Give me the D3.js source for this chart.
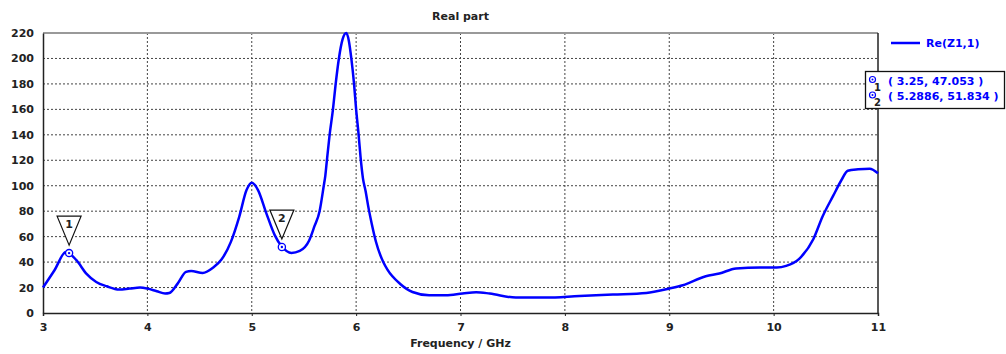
<!DOCTYPE html>
<html>
<head>
<meta charset="utf-8">
<script src="https://cdn.jsdelivr.net/npm/d3@7"></script>
<style>
  body { margin: 0; background: #fff; }
  text { font-family: "DejaVu Sans", Verdana, sans-serif; font-weight: bold; }
</style>
</head>
<body>
<div id="chart"></div>
<script>
// frequency samples (GHz)
var freq = [3.0, 3.11, 3.22, 3.32, 3.415, 3.51, 3.61, 3.73, 3.83, 3.93, 4.0, 4.09, 4.17, 4.21, 4.29,
  4.37, 4.42, 4.53, 4.63, 4.71, 4.80, 4.88, 4.95, 5.0, 5.06, 5.14, 5.22, 5.29, 5.38, 5.46, 5.55,
  5.60, 5.65, 5.69, 5.705, 5.72, 5.746, 5.778, 5.804, 5.835, 5.87, 5.906, 5.93, 5.954, 5.98, 6.0,
  6.024, 6.043, 6.065, 6.09, 6.12, 6.15, 6.19, 6.26, 6.30, 6.42, 6.54, 6.70, 6.86, 7.02, 7.15,
  7.28, 7.53, 7.82, 8.14, 8.46, 8.78, 9.0, 9.13, 9.35, 9.48, 9.64, 9.87, 10.03, 10.12, 10.25,
  10.38, 10.47, 10.57, 10.65, 10.71, 10.81, 10.92, 11.0];
// Re(Z1,1)
var re = [20, 33.6, 48, 41.5, 31, 24.4, 21, 18.4, 19.2, 20, 19.2, 17.1, 15.3, 15.7, 23.1,
  32.3, 33, 31.5, 35.7, 42, 55.9, 75.6, 96.6, 102.4, 96.6, 78.3, 61.2, 52, 47.2, 48.8, 57,
  68, 80, 100, 108, 120, 140, 160, 180, 200, 215, 220, 214, 200, 180, 160,
  140, 122, 106, 96, 82, 70, 56, 40, 34, 23, 16.5, 13.9, 13.9, 15.3, 16.3,
  15.3, 12.1, 12.1, 13.4, 14.5, 15.7, 19.2, 21.8, 28.9, 31, 35, 35.7, 35.7, 37, 43,
  58, 76, 92, 104.5, 111.8, 112.9, 113.4, 109.8];

var xTicks = [3, 4, 5, 6, 7, 8, 9, 10, 11];
var yTicks = [0, 20, 40, 60, 80, 100, 120, 140, 160, 180, 200, 220];

var markerFreq = [3.25, 5.2886];
var markerVal = [47.053, 51.834];
var markerText = ["( 3.25, 47.053 )", "( 5.2886, 51.834 )"];

var title = "Real part";
var xLabel = "Frequency / GHz";
var seriesName = "Re(Z1,1)";

//width and height
var W = 1006, H = 354;
var margin = { top: 33, right: 128, bottom: 41, left: 43 };
var width = W - margin.left - margin.right;
var height = H - margin.top - margin.bottom;
var blue = "#0000ff";

var xScale = d3.scaleLinear().domain([3, 11]).range([0, width]);
var yScale = d3.scaleLinear().domain([0, 220]).range([height, 0]);

var svg = d3.select("#chart")
  .append("svg")
  .attr("width", W)
  .attr("height", H);

var g = svg.append("g")
  .attr("transform", "translate(" + margin.left + "," + margin.top + ")");

// grid
g.selectAll(".hgrid")
  .data(yTicks.slice(1, -1))
  .enter()
  .append("line")
  .attr("x1", 0).attr("x2", width)
  .attr("y1", function (d) { return yScale(d); })
  .attr("y2", function (d) { return yScale(d); })
  .attr("stroke", "#444")
  .attr("stroke-dasharray", "2,2");

g.selectAll(".vgrid")
  .data(xTicks.slice(1, -1))
  .enter()
  .append("line")
  .attr("y1", 0).attr("y2", height)
  .attr("x1", function (d) { return xScale(d); })
  .attr("x2", function (d) { return xScale(d); })
  .attr("stroke", "#444")
  .attr("stroke-dasharray", "2,2");

// frame
g.append("line").attr("x1", 0).attr("x2", width).attr("y1", 0).attr("y2", 0)
  .attr("stroke", "#999").attr("stroke-width", 2);
g.append("line").attr("x1", width).attr("x2", width).attr("y1", 0).attr("y2", height)
  .attr("stroke", "#222").attr("stroke-width", 1.5);

// axes
var xAxis = d3.axisBottom(xScale).tickValues(xTicks).tickSize(3).tickPadding(7).tickFormat(d3.format("d"));
var yAxis = d3.axisLeft(yScale).tickValues(yTicks).tickSize(0).tickPadding(9);

var xg = g.append("g")
  .attr("transform", "translate(0," + height + ")")
  .call(xAxis);
var yg = g.append("g").call(yAxis);

[xg, yg].forEach(function (a) {
  a.select(".domain").attr("stroke", "#222").attr("stroke-width", 1.5);
  a.selectAll(".tick line").attr("stroke", "#222");
  a.selectAll("text").attr("font-size", 11).attr("fill", "#222")
    .style("font-family", "DejaVu Sans").style("font-weight", "bold");
});

// curve
var line = d3.line()
  .x(function (d, i) { return xScale(freq[i]); })
  .y(function (d) { return yScale(d); })
  .curve(d3.curveMonotoneX);

g.append("path")
  .datum(re)
  .attr("d", line)
  .attr("fill", "none")
  .attr("stroke", blue)
  .attr("stroke-width", 2.5);

// markers with triangle flags
markerFreq.forEach(function (f, i) {
  var mx = xScale(f), my = yScale(markerVal[i]);
  var ty = my - 8;
  g.append("path")
    .attr("d", "M" + mx + "," + ty + "L" + (mx - 12) + "," + (ty - 29) + "L" + (mx + 12) + "," + (ty - 29) + "Z")
    .attr("fill", "#fff").attr("stroke", "#111").attr("stroke-width", 1.2);
  g.append("text")
    .attr("x", mx).attr("y", ty - 17)
    .attr("text-anchor", "middle")
    .attr("font-size", 11).attr("fill", "#222")
    .text(i + 1);
  g.append("circle").attr("cx", mx).attr("cy", my).attr("r", 3.6)
    .attr("fill", "#fff").attr("stroke", blue).attr("stroke-width", 1.3);
  g.append("circle").attr("cx", mx).attr("cy", my).attr("r", 1.2).attr("fill", blue);
});

// title and axis label
svg.append("text")
  .attr("x", margin.left + width / 2).attr("y", 20)
  .attr("text-anchor", "middle").attr("font-size", 11).attr("fill", "#222")
  .text(title);

svg.append("text")
  .attr("x", margin.left + width / 2).attr("y", 347)
  .attr("text-anchor", "middle").attr("font-size", 11).attr("fill", "#222")
  .text(xLabel);

// legend
svg.append("line").attr("x1", 891).attr("x2", 920).attr("y1", 43).attr("y2", 43)
  .attr("stroke", blue).attr("stroke-width", 2.5);
svg.append("text").attr("x", 926).attr("y", 47)
  .attr("font-size", 11).attr("fill", blue).text(seriesName);

// marker readout box
svg.append("rect").attr("x", 865.5).attr("y", 71.5).attr("width", 139).attr("height", 37)
  .attr("fill", "#fff").attr("stroke", "#111").attr("stroke-width", 1.3);
markerText.forEach(function (t, i) {
  var cy = 79.5 + i * 15.5;
  svg.append("circle").attr("cx", 872.5).attr("cy", cy).attr("r", 3)
    .attr("fill", "#fff").attr("stroke", blue).attr("stroke-width", 1.2);
  svg.append("circle").attr("cx", 872.5).attr("cy", cy).attr("r", 1).attr("fill", blue);
  svg.append("text").attr("x", 874).attr("y", cy + 11)
    .attr("font-size", 10).attr("fill", "#222").text(i + 1);
  svg.append("text").attr("x", 888).attr("y", cy + 5)
    .attr("font-size", 11).attr("fill", blue).text(t);
});
</script>
</body>
</html>
